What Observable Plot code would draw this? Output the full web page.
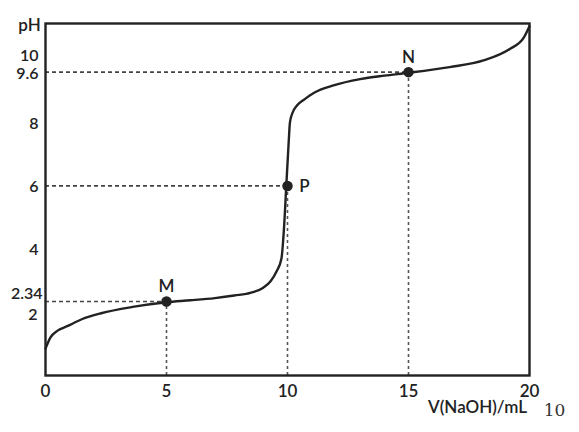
<!DOCTYPE html>
<html>
<head>
<meta charset="utf-8">
<script src="https://cdn.jsdelivr.net/npm/d3@7"></script>
<script src="https://cdn.jsdelivr.net/npm/@observablehq/plot@0.6"></script>
<style>
  body { margin: 0; background: #fff; }
  #chart svg { display: block; }
</style>
</head>
<body>
<div id="chart"></div>
<script>
// Titration curve: V(NaOH)/mL vs pH
const volume = [0, 0.2, 0.5, 0.9, 1.5, 2.3, 3.6, 5, 6, 7, 7.8, 8.5, 9.0, 9.3, 9.55, 9.75, 9.85, 9.95, 10.05, 10.1, 10.2, 10.4, 10.7, 11.1, 11.9, 13.0, 14.0, 15, 16.7, 18.1, 19.2, 19.77, 20];
const pH     = [0.85, 1.2, 1.42, 1.56, 1.78, 1.97, 2.17, 2.32, 2.38, 2.45, 2.53, 2.62, 2.78, 2.98, 3.3, 3.7, 4.6, 6.0, 7.4, 8.0, 8.3, 8.55, 8.74, 8.95, 9.18, 9.38, 9.49, 9.58, 9.76, 9.97, 10.34, 10.7, 11.05];

const pointNames = ["M", "P", "N"];
const pointV = [5, 10, 15];
const pointPH = [2.34, 6, 9.6];

const xTicks = [0, 5, 10, 15, 20];
const yTicksMain = [8, 6, 4];
const yTickTop = [10];
const yTickNinePointSix = [9.6];
const yTickUpper = [2.34];
const yTickLower = [2];

const curve = volume.map((v, i) => ({v, ph: pH[i]}));
const points = pointNames.map((n, i) => ({name: n, v: pointV[i], ph: pointPH[i]}));

const ink = "#222";
const font = "Lato, 'Open Sans', sans-serif";
const yAxisStyle = {tickSize: 0, label: null, fontSize: 16, fill: ink, tickFormat: d => String(d)};

const chart = Plot.plot({
  width: 579,
  height: 432,
  marginLeft: 45,
  marginRight: 50,
  marginTop: 23,
  marginBottom: 57,
  style: {fontFamily: font, fontSize: "17px", fontWeight: 600, color: ink, background: "#fff"},
  x: {domain: [0, 20]},
  y: {domain: [0, 11.14]},
  marks: [
    // dashed guide lines
    Plot.ruleY(points, {y: "ph", x1: d => 0, x2: "v", stroke: "#444", strokeWidth: 1.6, strokeDasharray: "4,3"}),
    Plot.ruleX(points, {x: "v", y1: d => 0, y2: "ph", stroke: "#555", strokeWidth: 1.6, strokeDasharray: "3,3"}),
    // curve
    Plot.line(curve, {x: "v", y: "ph", curve: "monotone-x", stroke: ink, strokeWidth: 2.4}),
    // points
    Plot.dot(points, {x: "v", y: "ph", r: 4.5, fill: ink, stroke: ink}),
    Plot.text(points.filter(d => d.name !== "P"), {x: "v", y: "ph", text: "name", dy: -15, fill: ink, fontSize: 17}),
    Plot.text(points.filter(d => d.name === "P"), {x: "v", y: "ph", text: "name", dx: 17, dy: 1, fill: ink, fontSize: 17}),
    // axes
    Plot.axisX({ticks: xTicks, tickSize: 0, tickPadding: 9, label: null, fontSize: 17, fill: ink}),
    Plot.axisY({...yAxisStyle, ticks: yTicksMain, tickPadding: 7, dy: 1}),
    Plot.axisY({...yAxisStyle, ticks: yTickTop, tickPadding: 7, dy: -4}),
    Plot.axisY({...yAxisStyle, ticks: yTickNinePointSix, tickPadding: 7, dy: 2}),
    Plot.axisY({...yAxisStyle, ticks: yTickUpper, tickPadding: 3, dy: -8}),
    Plot.axisY({...yAxisStyle, ticks: yTickLower, tickPadding: 8, dy: 3}),
    // frame
    Plot.frame({stroke: ink, strokeWidth: 2.4}),
    // labels
    Plot.text(["pH"], {frameAnchor: "top-left", textAnchor: "middle", dx: -16, dy: -5, fontSize: 17, fill: ink}),
    Plot.text(["V(NaOH)/mL"], {frameAnchor: "bottom-right", textAnchor: "middle", dx: -52, dy: 37, fontSize: 17, fill: ink}),
    Plot.text(["10"], {frameAnchor: "bottom-right", textAnchor: "middle", dx: 25, dy: 40, fontSize: 17, fontWeight: 400, fill: "#333", fontFamily: "'DejaVu Serif', serif"})
  ]
});

document.getElementById("chart").appendChild(chart);
</script>
</body>
</html>
